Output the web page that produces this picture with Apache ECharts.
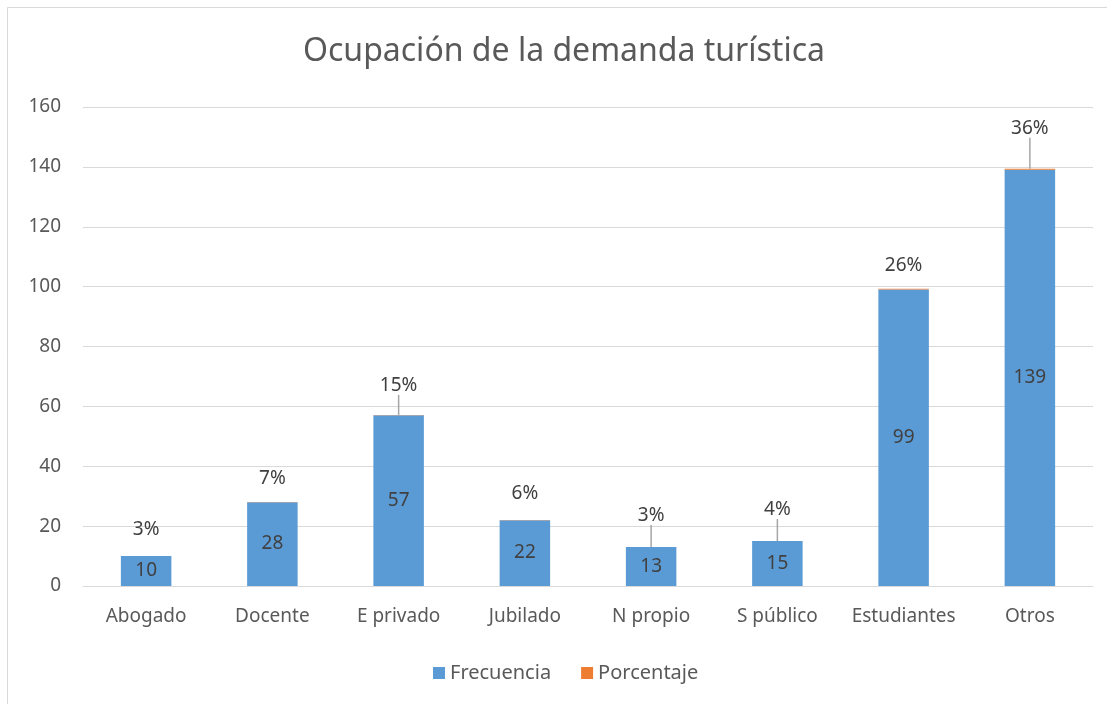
<!DOCTYPE html>
<html>
<head>
<meta charset="utf-8">
<title>Ocupación de la demanda turística</title>
<script src="https://cdn.jsdelivr.net/npm/echarts@6/dist/echarts.min.js"></script>
<style>
  html, body { margin: 0; padding: 0; background: #ffffff; }
  #chart { width: 1107px; height: 704px; }
</style>
</head>
<body>
<div id="chart"></div>
<script>
// Occupation categories and their counts / shares
const categories = ['Abogado', 'Docente', 'E privado', 'Jubilado', 'N propio', 'S público', 'Estudiantes', 'Otros'];
const frecuencia = [10, 28, 57, 22, 13, 15, 99, 139];
const porcentaje = [0.03, 0.07, 0.15, 0.06, 0.03, 0.04, 0.26, 0.36];
const yTicks = { min: 0, max: 160, interval: 20 };

// Extra lift for the share labels, and which ones get a leader line
const pctLabelLift = [11, 8, 14, 11, 16, 16, 8, 25];
const pctLeader = [false, false, true, false, true, true, false, true];

const FONT = 'Noto Sans';
const TEXT = '#595959';
const FS = 19;

const chart = echarts.init(document.getElementById('chart'), null, { renderer: 'canvas' });

chart.setOption({
  animation: false,
  backgroundColor: '#ffffff',
  textStyle: { fontFamily: FONT },
  graphic: [{
    type: 'rect',
    shape: { x: 7.5, y: 7.5, width: 1200, height: 800 },
    style: { fill: 'none', stroke: '#d9d9d9', lineWidth: 1 },
    silent: true
  }],
  title: {
    text: 'Ocupación de la demanda turística',
    left: 298,
    top: 31,
    textStyle: { fontFamily: FONT, fontSize: 32, fontWeight: 'normal', color: TEXT }
  },
  legend: {
    left: 428,
    top: 658,
    itemWidth: 12,
    itemHeight: 12,
    itemGap: 30,
    icon: 'rect',
    textStyle: { fontFamily: FONT, fontSize: 20, color: TEXT },
    data: ['Frecuencia', 'Porcentaje']
  },
  grid: { left: 83, right: 14, top: 107, bottom: 118 },
  xAxis: {
    type: 'category',
    data: categories,
    axisLine: { lineStyle: { color: '#d9d9d9', width: 1 } },
    axisTick: { show: false },
    axisLabel: { color: TEXT, fontFamily: FONT, fontSize: FS, margin: 21, interval: 0 }
  },
  yAxis: {
    type: 'value',
    min: yTicks.min,
    max: yTicks.max,
    interval: yTicks.interval,
    axisLine: { show: false },
    axisTick: { show: false },
    axisLabel: { color: TEXT, fontFamily: FONT, fontSize: FS, margin: 22 },
    splitLine: { lineStyle: { color: '#d9d9d9', width: 1 } }
  },
  series: [
    {
      name: 'Frecuencia',
      type: 'bar',
      stack: 'total',
      barWidth: '40%',
      data: frecuencia,
      itemStyle: { color: '#5b9bd5' },
      label: {
        show: true,
        position: 'inside',
        color: '#404040',
        fontFamily: FONT,
        fontSize: FS
      }
    },
    {
      name: 'Porcentaje',
      type: 'bar',
      stack: 'total',
      barWidth: '40%',
      itemStyle: { color: '#ed7d31' },
      data: porcentaje.map((v, i) => ({
        value: v,
        labelLine: { show: pctLeader[i], lineStyle: { color: '#a6a6a6', width: 1.5 }, length2: 0 }
      })),
      label: {
        show: true,
        position: 'top',
        distance: 6,
        color: '#404040',
        fontFamily: FONT,
        fontSize: FS,
        formatter: p => Math.round(p.value * 100) + '%'
      },
      labelLayout: p => ({ dy: -pctLabelLift[p.dataIndex] })
    }
  ]
});
</script>
</body>
</html>
